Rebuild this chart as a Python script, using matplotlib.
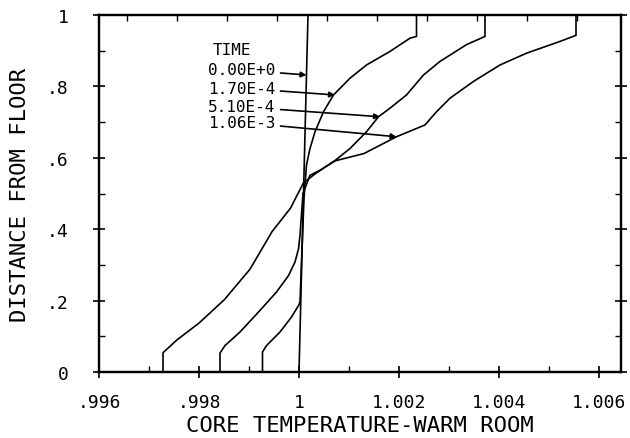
import numpy as np
import matplotlib.pyplot as plt

# time labels for each profile
times = ["0.00E+0", "1.70E-4", "5.10E-4", "1.06E-3"]

# core temperature profiles (x) vs distance from floor (y)
t0_x = [1.0000, 1.00018]
t0_y = [0.0, 1.0]

t1_x = [0.99927, 0.99927, 0.99935, 0.99962, 0.99985, 0.99999, 1.00002, 1.00006, 1.00010,
        1.00015, 1.00022, 1.00032, 1.00049, 1.00069, 1.00102, 1.00135, 1.00182, 1.00222,
        1.00235, 1.00235]
t1_y = [0.0, 0.056, 0.074, 0.112, 0.154, 0.186, 0.196, 0.345, 0.486,
        0.580, 0.626, 0.673, 0.729, 0.776, 0.823, 0.860, 0.898, 0.935,
        0.940, 1.0]

t2_x = [0.99842, 0.99842, 0.99852, 0.99882, 0.99919, 0.99955, 0.99979, 0.99992, 0.99999,
        1.00002, 1.00008, 1.00022, 1.00042, 1.00069, 1.00102, 1.00135, 1.00159, 1.00182,
        1.00215, 1.00249, 1.00282, 1.00335, 1.00372, 1.00372]
t2_y = [0.0, 0.053, 0.074, 0.112, 0.168, 0.224, 0.270, 0.308, 0.345,
        0.383, 0.500, 0.551, 0.565, 0.589, 0.626, 0.673, 0.715, 0.739,
        0.776, 0.832, 0.870, 0.917, 0.940, 1.0]

t3_x = [0.99728, 0.99728, 0.99756, 0.99800, 0.99851, 0.99902, 0.99946, 0.99983, 1.00009,
        1.00035, 1.00071, 1.00130, 1.00195, 1.00252, 1.00275, 1.00302, 1.00349, 1.00402,
        1.00455, 1.00522, 1.00554, 1.00554]
t3_y = [0.0, 0.054, 0.090, 0.137, 0.203, 0.288, 0.393, 0.459, 0.530,
        0.558, 0.591, 0.612, 0.659, 0.692, 0.729, 0.767, 0.814, 0.860,
        0.893, 0.926, 0.943, 1.0]

# where each label arrow points on its curve
arrow_x = [1.00015, 1.00072, 1.00162, 1.00195]
arrow_y = [0.832, 0.776, 0.715, 0.659]
label_y = [0.846, 0.795, 0.743, 0.699]

x_ticks = [0.996, 0.998, 1.0, 1.002, 1.004, 1.006]
x_ticklabels = [".996", ".998", "1", "1.002", "1.004", "1.006"]
y_ticks = [0.0, 0.2, 0.4, 0.6, 0.8, 1.0]
y_ticklabels = ["0", ".2", ".4", ".6", ".8", "1"]

plt.rcParams['font.family'] = ['DejaVu Sans Mono']

fig = plt.figure(figsize=(6.3, 4.39), dpi=100)
ax = fig.add_axes([99 / 630, 66 / 439, 522 / 630, 357 / 439])

# plot profiles
for xs, ys in [(t0_x, t0_y), (t1_x, t1_y), (t2_x, t2_y), (t3_x, t3_y)]:
    ax.plot(xs, ys, color='black', lw=1.2)

ax.set_xlim(0.996, 1.00644)
ax.set_ylim(0, 1)

# ticks
ax.set_xticks(x_ticks)
ax.set_xticklabels(x_ticklabels)
ax.set_xticks(np.arange(0.996, 1.0065, 0.001), minor=True)
ax.set_yticks(y_ticks)
ax.set_yticklabels(y_ticklabels)
ax.set_yticks(np.arange(0.0, 1.05, 0.1), minor=True)
ax.tick_params(axis='both', which='major', direction='inout', length=8, width=1.2,
               labelsize=13, right=True)
ax.tick_params(axis='both', which='minor', direction='in', length=4, width=1.0, right=True)
ax.tick_params(axis='x', which='major', pad=11)
ax.tick_params(axis='y', which='major', pad=18)

# top ticks
top = ax.twiny()
top.set_xlim(ax.get_xlim())
top.set_xticks(np.arange(0.99655, 1.0064, 0.001))
top.tick_params(axis='x', direction='in', length=4, width=1.0, labeltop=False)

for a in (ax, top):
    for s in a.spines.values():
        s.set_linewidth(1.6)

ax.set_xlabel("CORE TEMPERATURE-WARM ROOM", fontsize=16, labelpad=3)
ax.set_ylabel("DISTANCE FROM FLOOR", fontsize=16, labelpad=12)

# legend-like annotations
ax.text(0.99866, 0.9045, "TIME", fontsize=11.5, ha='center', va='center')
for lab, ly, ax_x, ax_y in zip(times, label_y, arrow_x, arrow_y):
    ax.annotate(lab, xy=(ax_x, ax_y), xytext=(0.99952, ly), fontsize=11.5,
                ha='right', va='center',
                arrowprops=dict(arrowstyle='-|>', color='black', lw=1.2,
                                mutation_scale=8, shrinkA=2, shrinkB=0))

plt.savefig("out.png", dpi=100)
